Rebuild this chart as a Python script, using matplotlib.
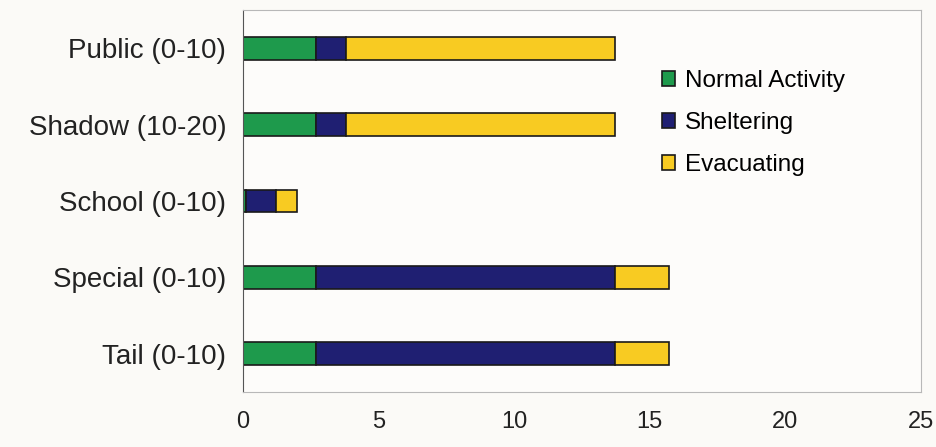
import matplotlib
matplotlib.use("Agg")
import matplotlib.pyplot as plt
import numpy as np

# data
groups = ['Public (0-10)', 'Shadow (10-20)', 'School (0-10)', 'Special (0-10)', 'Tail (0-10)']
normal = [2.7, 2.7, 0.1, 2.7, 2.7]
sheltering = [1.1, 1.1, 1.1, 11.0, 11.0]
evacuating = [9.9, 9.9, 0.8, 2.0, 2.0]
series_names = ['Normal Activity', 'Sheltering', 'Evacuating']
colors = ['#1e9a4c', '#1f1f72', '#f8cb22']

plt.rcParams['font.family'] = ['Liberation Sans', 'DejaVu Sans']

fig = plt.figure(figsize=(9.37, 4.47), dpi=100)
fig.patch.set_facecolor('#fbfaf7')
ax = fig.add_axes([243/937, 1 - 392/447, (921-243)/937, (392-10)/447])
ax.set_facecolor('#fdfcfa')

y = np.arange(len(groups))
left = np.zeros(len(groups))
for vals, name, c in zip([normal, sheltering, evacuating], series_names, colors):
    ax.barh(y, vals, left=left, height=0.3, color=c, edgecolor='#1a1a1a',
            linewidth=1.2, label=name)
    left += np.array(vals)

ax.set_yticks(y)
ax.set_yticklabels(groups, fontsize=20, color='#222222')
ax.set_ylim(len(groups) - 0.5, -0.5)
ax.set_xlim(0, 25)
ax.set_xticks([0, 5, 10, 15, 20, 25])
ax.tick_params(axis='both', length=0, colors='#222222')
ax.tick_params(axis='x', pad=14, labelsize=17)
ax.tick_params(axis='y', pad=12)

for s in ['top', 'right', 'bottom']:
    ax.spines[s].set_color('#b8b8b8')
ax.spines['left'].set_color('#555555')

leg = ax.legend(loc='upper left', bbox_to_anchor=(0.585, 0.9), frameon=False,
                fontsize=17.5, handlelength=0.55, handleheight=0.55, handletextpad=0.4,
                labelspacing=0.82)

fig.savefig('out.png', dpi=100, facecolor=fig.get_facecolor())
